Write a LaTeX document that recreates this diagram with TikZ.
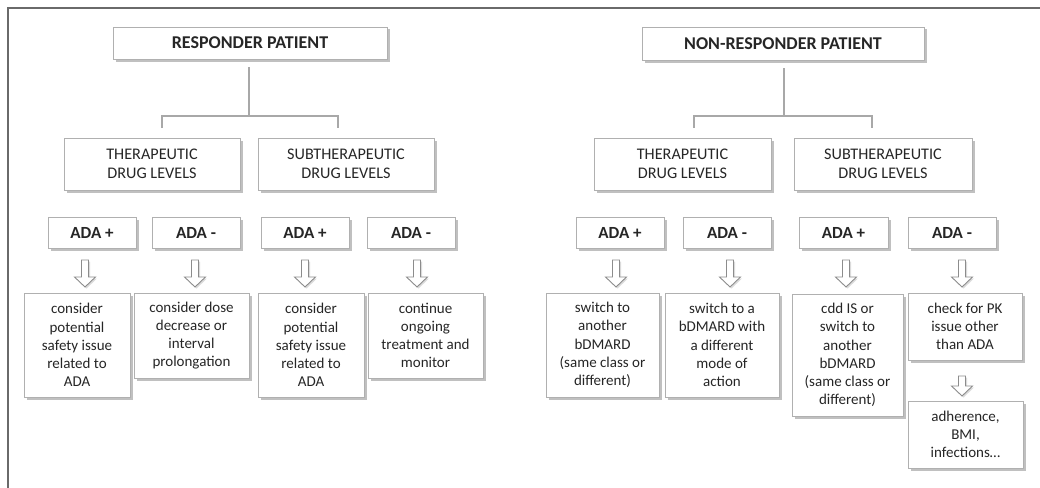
\documentclass[tikz,border=0pt]{standalone}
\usepackage{fontspec}
\setmainfont{Carlito}
\usetikzlibrary{shadows,calc}
\definecolor{txt}{HTML}{262626}
\definecolor{bord}{HTML}{B0B0B0}
\definecolor{conn}{HTML}{A8A8A8}
\definecolor{frm}{HTML}{6A6A6A}
\tikzset{
  box/.style={draw=bord, line width=0.9pt, fill=white, text=txt, align=center, inner sep=0pt,
    drop shadow={shadow xshift=2.5pt, shadow yshift=-2.5pt, fill=black!45, opacity=0.55}},
  titlebox/.style={box, font=\fontsize{18}{20}\selectfont\bfseries},
  levelbox/.style={box, font=\fontsize{16.2}{19.5}\selectfont, minimum height=52pt},
  adabox/.style={box, font=\fontsize{17}{19}\selectfont\bfseries, minimum width=88pt, minimum height=31pt},
  resbox/.style={box, font=\fontsize{15}{18.2}\selectfont},
  connector/.style={draw=conn, line width=2pt},
  frame/.style={draw=frm, line width=2pt},
  arrowstyle/.style={draw=black!45, line width=0.9pt, fill=white,
    drop shadow={shadow xshift=1.5pt, shadow yshift=-1.5pt, fill=black!35, opacity=0.4}},
  darrow/.pic={\path[arrowstyle] (-3.5,0) -- (3.5,0) -- (3.5,17) -- (10.5,17) -- (0,27) -- (-10.5,17) -- (-3.5,17) -- cycle;},
  smallarrow/.pic={\path[arrowstyle] (-3.5,0) -- (3.5,0) -- (3.5,10) -- (10.5,10) -- (0,20) -- (-10.5,10) -- (-3.5,10) -- cycle;}
}
\begin{document}
\begin{tikzpicture}[x=1pt,y=-1pt]
\useasboundingbox (0,0) rectangle (1040,487);
\draw[frame] (8,488) -- (8,8) -- (1041,8);

% ---------- Responder ----------
\node[titlebox, minimum width=274pt, minimum height=32pt] (resp) at (250,43) {RESPONDER PATIENT};
\node[levelbox, minimum width=176pt] (rT) at (152,164) {THERAPEUTIC\\DRUG LEVELS};
\node[levelbox, minimum width=176pt] (rS) at (346,164) {SUBTHERAPEUTIC\\DRUG LEVELS};
\coordinate (rJ) at (249,116);
\coordinate (rTt) at (162,128);
\coordinate (rSt) at (338,128);
\draw[connector] ($(resp.south)+(-1,8)$) -- (rJ);
\draw[connector] (rTt) |- (rJ) -| (rSt);

\node[adabox] (rTp) at (92,232.5) {ADA +};
\node[adabox] (rTm) at (196,232.5) {ADA -};
\node[adabox] (rSp) at (305,232.5) {ADA +};
\node[adabox] (rSm) at (411,232.5) {ADA -};

\pic at (85,260) {darrow};
\pic at (195,260) {darrow};
\pic at (305,260) {darrow};
\pic at (417,260) {darrow};

\node[resbox, minimum width=106pt, minimum height=104pt] (r1) at (77,345) {consider\\potential\\safety issue\\related to\\ADA};
\node[resbox, minimum width=115pt, minimum height=85pt] (r2) at (191.5,335.5) {consider dose\\decrease or\\interval\\prolongation};
\node[resbox, minimum width=106pt, minimum height=104pt] (r3) at (311,345) {consider\\potential\\safety issue\\related to\\ADA};
\node[resbox, minimum width=115pt, minimum height=85pt] (r4) at (425.5,335.5) {continue\\ongoing\\treatment and\\monitor};

% ---------- Non-responder ----------
\node[titlebox, minimum width=282pt, minimum height=33pt] (nonresp) at (783,43.5) {NON-RESPONDER PATIENT};
\node[levelbox, minimum width=177pt] (nT) at (682.5,164) {THERAPEUTIC\\DRUG LEVELS};
\node[levelbox, minimum width=178pt] (nS) at (883,164) {SUBTHERAPEUTIC\\DRUG LEVELS};
\coordinate (nJ) at (784,116);
\coordinate (nTt) at (694,128);
\coordinate (nSt) at (872,128);
\draw[connector] ($(nonresp.south)+(1,8)$) -- (nJ);
\draw[connector] (nTt) |- (nJ) -| (nSt);

\node[adabox] (nTp) at (620,232.5) {ADA +};
\node[adabox] (nTm) at (727,232.5) {ADA -};
\node[adabox, minimum width=89pt] (nSp) at (843.5,232.5) {ADA +};
\node[adabox] (nSm) at (952,232.5) {ADA -};

\pic at (616,260) {darrow};
\pic at (730,260) {darrow};
\pic at (846,260) {darrow};
\pic at (962,260) {darrow};

\node[resbox, minimum width=113pt, minimum height=104pt] (n1) at (602.5,345) {switch to\\another\\bDMARD\\(same class or\\different)};
\node[resbox, minimum width=114pt, minimum height=104pt] (n2) at (722,345) {switch to a\\bDMARD with\\a different\\mode of\\action};
\node[resbox, minimum width=111pt, minimum height=122pt] (n3) at (847.5,355) {cdd IS or\\switch to\\another\\bDMARD\\(same class or\\different)};
\node[resbox, minimum width=114pt, minimum height=67pt] (n4) at (965,326.5) {check for PK\\issue other\\than ADA};
\pic at (962,376) {smallarrow};
\node[resbox, minimum width=115pt, minimum height=67pt] (n5) at (965.5,434.5) {adherence,\\BMI,\\infections\dots};
\end{tikzpicture}
\end{document}
